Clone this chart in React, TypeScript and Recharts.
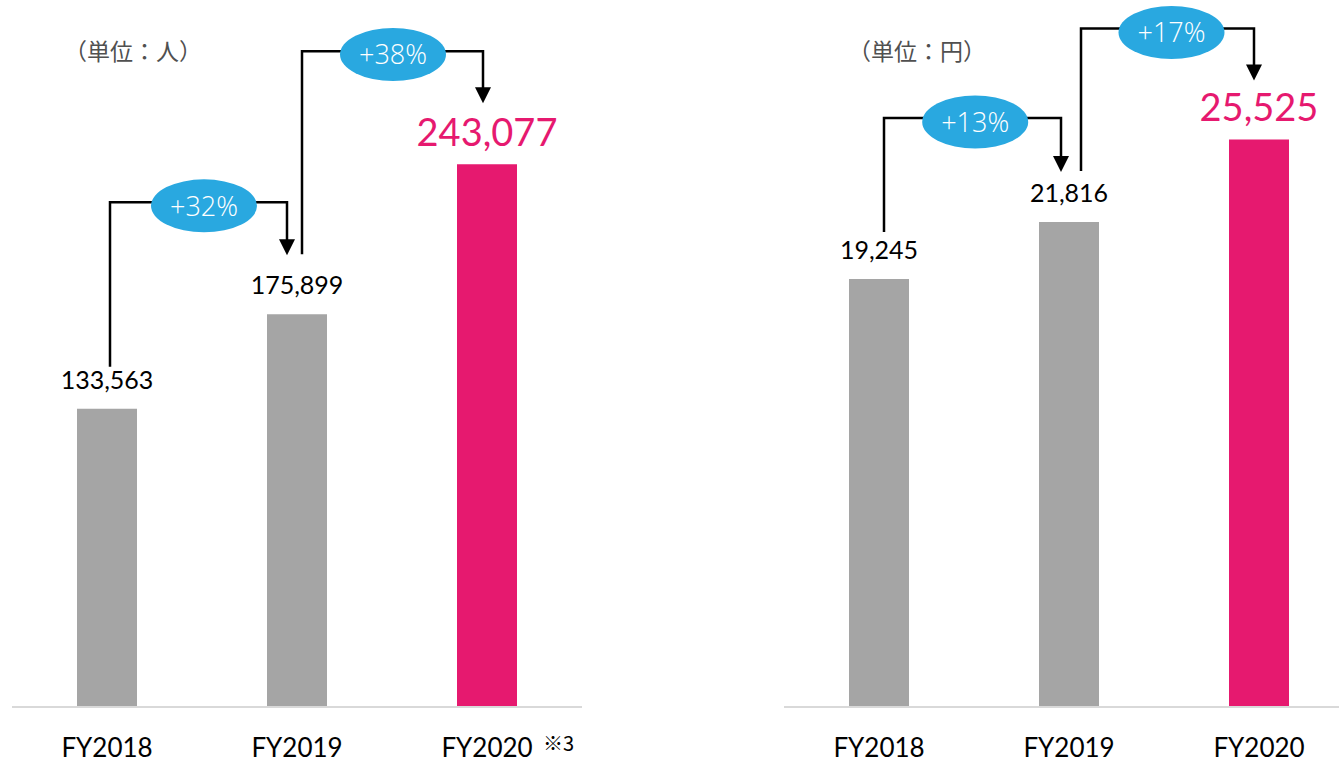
import { BarChart, Bar, XAxis, YAxis, Cell, LabelList } from "recharts";

const categories = ["FY2018", "FY2019", "FY2020"];
const members = [133563, 175899, 243077];
const spending = [19245, 21816, 25525];
const memberGrowth = ["+32%", "+38%"];
const spendingGrowth = ["+13%", "+17%"];
const memberNotes = ["", "", "※3"];
const spendingNotes = ["", "", ""];
const highlight = [false, false, true];

const GRAY = "#a5a5a5";
const PINK = "#e6196f";
const BLUE = "#29a8e0";
const NUM_FONT = "Lato, 'Noto Sans', sans-serif";
const JP_FONT = "'Noto Sans CJK JP', sans-serif";

const PLOT_W = 570;
const STEP = PLOT_W / categories.length;

// pixel tweaks for each connector: start dx, gap above start bar, line height above next bar,
// end dx, arrow tip gap, bubble dx / dy
interface Conn { sx: number; sg: number; ly: number; ex: number; tg: number; edx: number; edy: number }

const memberConn: Conn[] = [
  { sx: 3, sg: 42, ly: 112, ex: -10, tg: 59, edx: 5.5, edy: 3.7 },
  { sx: 5, sg: 60, ly: 113, ex: -4, tg: 61, edx: 0.5, edy: 3.3 },
];
const spendingConn: Conn[] = [
  { sx: 5, sg: 47, ly: 104, ex: -8, tg: 50, edx: 2.7, edy: 4 },
  { sx: 12, sg: 51, ly: 111, ex: -5, tg: 59, edx: 4, edy: 4 },
];

interface ChartProps {
  values: number[];
  growth: string[];
  notes: string[];
  conn: Conn[];
  yMax: number;
  left: number;
  width: number;
  margin: { top: number; right: number; bottom: number; left: number };
  unit: string;
  unitLeft: number;
}

function GrowthChart({ values, growth, notes, conn, yMax, left, width, margin, unit, unitLeft }: ChartProps) {
  const data = categories.map((name, i) => ({ name, value: values[i] }));

  const renderLabel = (props: any) => {
    const { x, y, width: w, height: h, value } = props;
    let index = props.index;
    if (index === undefined) index = values.indexOf(value);
    const cx = x + w / 2;
    const big = highlight[index];
    const items = [
      <text
        key="v"
        x={cx}
        y={y - (big ? 18 : 20)}
        textAnchor="middle"
        fontFamily={NUM_FONT}
        fontSize={big ? 38 : 25}
        fill={big ? PINK : "#000"}
      >
        {value.toLocaleString("en-US")}
      </text>,
    ];
    if (index < values.length - 1) {
      const c = conn[index];
      const base = y + h;
      const nextTop = base - (h * values[index + 1]) / value;
      const x0 = cx + c.sx;
      const x1 = cx + STEP + c.ex;
      const yLine = nextTop - c.ly;
      const yTip = nextTop - c.tg;
      const ex = (x0 + x1) / 2 + c.edx;
      const ey = yLine + c.edy;
      items.push(
        <g key="c">
          <path
            d={`M${x0},${y - c.sg} V${yLine} H${x1} V${yTip - 15}`}
            fill="none"
            stroke="#000"
            strokeWidth={2.5}
          />
          <polygon points={`${x1 - 8},${yTip - 16} ${x1 + 8},${yTip - 16} ${x1},${yTip}`} fill="#000" />
          <ellipse cx={ex} cy={ey} rx={53} ry={26.5} fill={BLUE} />
          <text
            x={ex}
            y={ey + 10}
            textAnchor="middle"
            fontFamily="'Open Sans', sans-serif"
            fontWeight={300}
            fontSize={27}
            fill="#fff"
          >
            {growth[index]}
          </text>
        </g>
      );
    }
    return <g>{items}</g>;
  };

  const renderTick = (props: any) => {
    const { x, y, payload, index } = props;
    const i = index !== undefined ? index : categories.indexOf(payload.value);
    return (
      <g>
        <text x={x} y={y + 42} textAnchor="middle" fontFamily={NUM_FONT} fontSize={26} fill="#000">
          {payload.value}
        </text>
        {notes[i] ? (
          <text x={x + 56} y={y + 36} textAnchor="start" fontFamily={JP_FONT} fontSize={20} fill="#000">
            {notes[i]}
          </text>
        ) : null}
      </g>
    );
  };

  return (
    <div style={{ position: "absolute", left, top: 0 }}>
      <div
        style={{
          position: "absolute",
          left: unitLeft - left,
          top: 36,
          fontFamily: JP_FONT,
          fontSize: 23,
          lineHeight: "28px",
          color: "#505050",
          whiteSpace: "nowrap",
        }}
      >
        {unit}
      </div>
      <BarChart width={width} height={763} data={data} margin={margin}>
        <XAxis
          dataKey="name"
          height={56}
          axisLine={{ stroke: "#d9d9d9", strokeWidth: 2 }}
          tickLine={false}
          tick={renderTick}
          interval={0}
        />
        <YAxis hide domain={[0, yMax]} />
        <Bar dataKey="value" barSize={60} isAnimationActive={false}>
          {data.map((d, i) => (
            <Cell key={d.name} fill={highlight[i] ? PINK : GRAY} />
          ))}
          <LabelList dataKey="value" content={renderLabel} />
        </Bar>
      </BarChart>
    </div>
  );
}

export default function App() {
  return (
    <div
      style={{
        position: "absolute",
        left: 0,
        top: 0,
        width: 1339,
        height: 763,
        overflow: "hidden",
        background: "#fff",
      }}
    >
      <GrowthChart
        values={members}
        growth={memberGrowth}
        notes={memberNotes}
        conn={memberConn}
        yMax={300000}
        left={0}
        width={600}
        margin={{ top: 37, right: 18, bottom: 0, left: 12 }}
        unit="（単位：人）"
        unitLeft={64}
      />
      <GrowthChart
        values={spending}
        growth={spendingGrowth}
        notes={spendingNotes}
        conn={spendingConn}
        yMax={30000}
        left={760}
        width={620}
        margin={{ top: 40, right: 26, bottom: 0, left: 24 }}
        unit="（単位：円）"
        unitLeft={848}
      />
    </div>
  );
}
